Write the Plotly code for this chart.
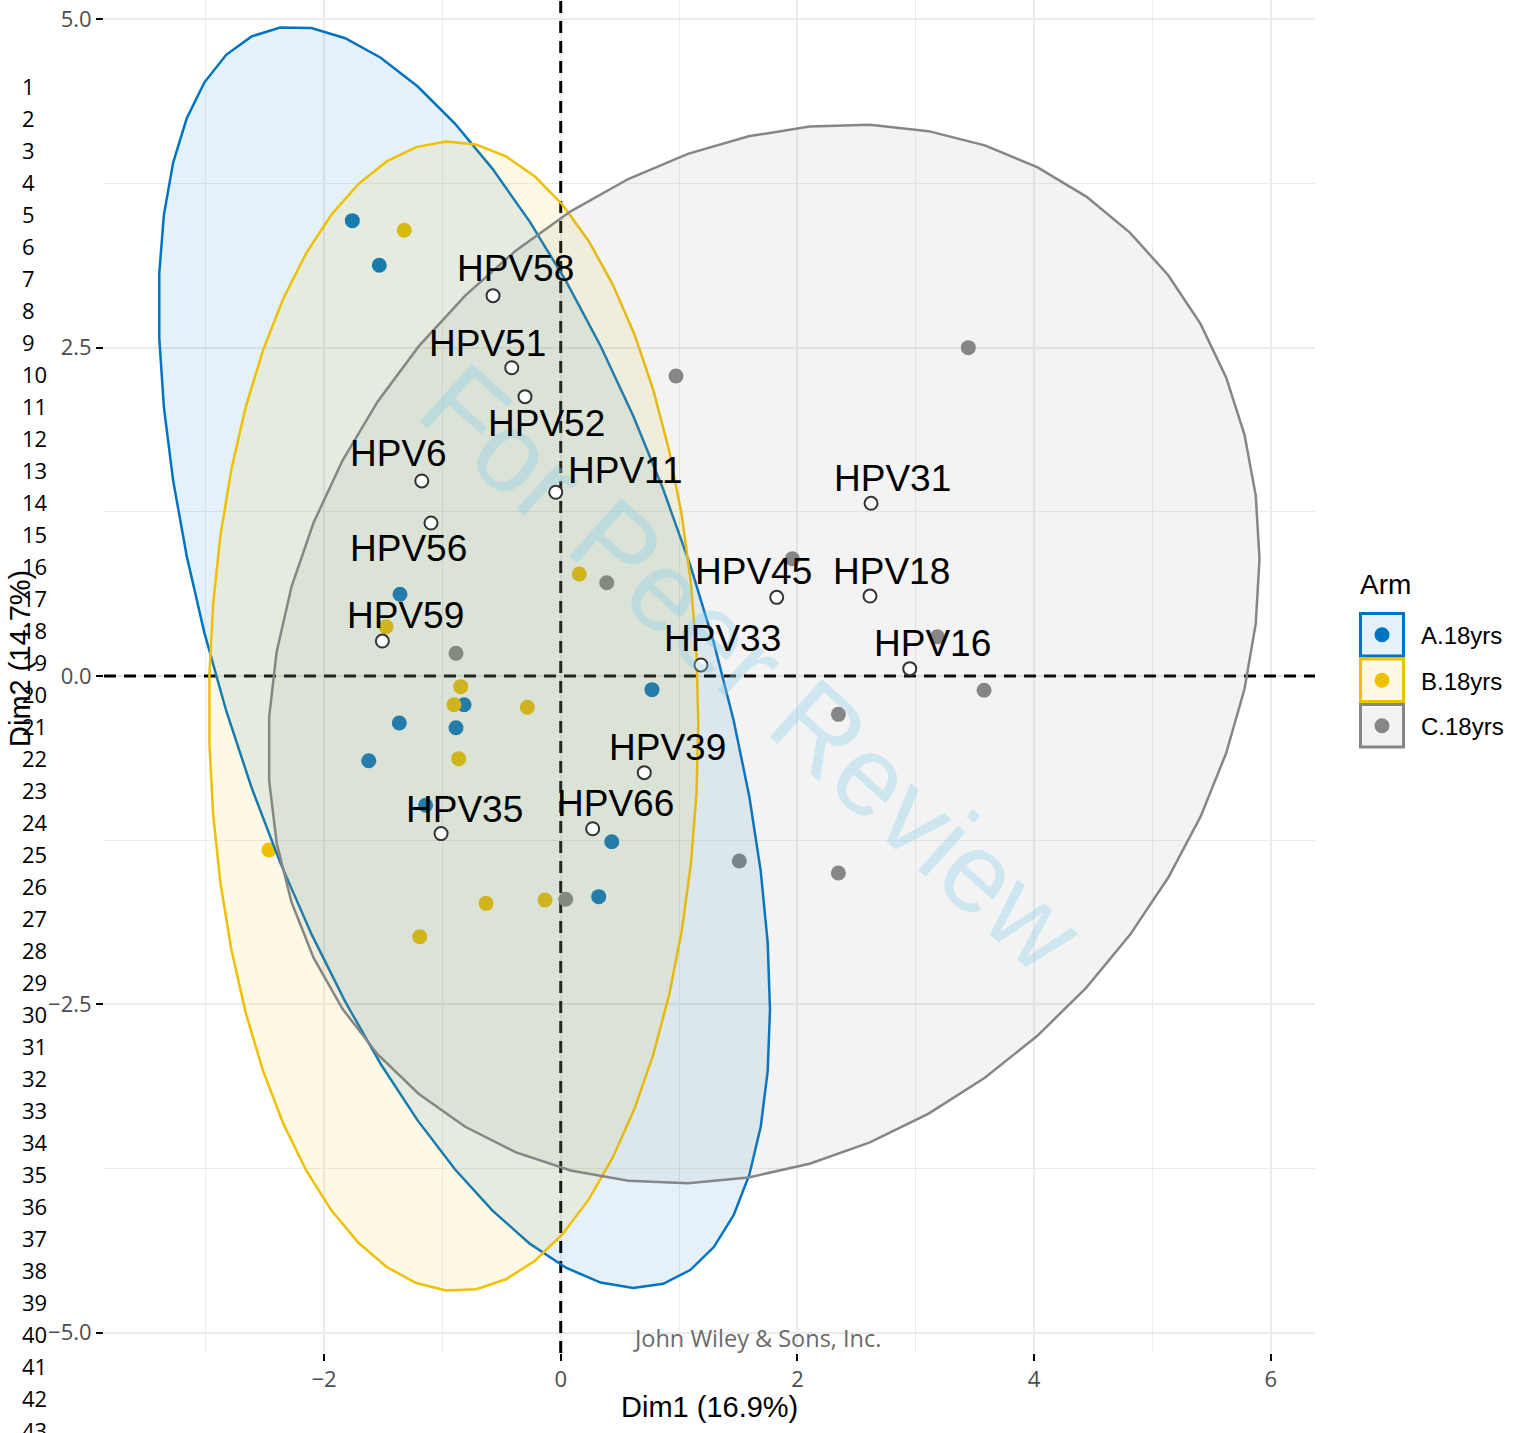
import numpy as np
import plotly.graph_objects as go

# ---------------- data ----------------
groups = ["A.18yrs", "B.18yrs", "C.18yrs"]
colors = ["#0073C2", "#EFC000", "#868686"]
fills = ["rgba(0,115,194,0.1)", "rgba(239,192,0,0.1)", "rgba(134,134,134,0.1)"]

a_x = [-1.761, -1.533, -1.358, -0.817, -1.364, -0.885, -1.622, -1.142, 0.771, 0.431, 0.321]
a_y = [3.467, 3.127, 0.622, -0.219, -0.358, -0.394, -0.645, -0.984, -0.104, -1.262, -1.680]

b_x = [-1.322, -1.476, -0.845, -0.902, -0.282, -0.862, -2.465, 0.157, -0.631, -0.133, -1.191]
b_y = [3.394, 0.375, -0.081, -0.219, -0.238, -0.630, -1.325, 0.777, -1.731, -1.706, -1.985]

c_x = [0.974, 3.444, 1.957, 0.389, -0.885, 3.182, 3.577, 2.346, 1.509, 2.346, 0.042]
c_y = [2.284, 2.500, 0.893, 0.710, 0.173, 0.299, -0.109, -0.292, -1.409, -1.500, -1.700]

var_names = ["HPV58", "HPV51", "HPV52", "HPV6", "HPV11", "HPV56", "HPV59", "HPV31",
             "HPV45", "HPV18", "HPV33", "HPV16", "HPV39", "HPV66", "HPV35"]
var_x = [-0.572, -0.414, -0.302, -1.174, -0.042, -1.096, -1.507, 2.622,
         1.825, 2.613, 1.185, 2.949, 0.706, 0.270, -1.011]
var_y = [2.896, 2.347, 2.127, 1.485, 1.399, 1.165, 0.266, 1.315,
         0.599, 0.609, 0.084, 0.056, -0.736, -1.163, -1.200]
# label offsets (pixels, right / down) as placed by the label repeller
lab_dx = [22, -24, 22, -23, 70, -23, 23, 21, -23, 22, 22, 23, 23, 23, 23]
lab_dy = [-27, -24, 27, -27, -22, 26, -26, -25, -26, -25, -26, -25, -25, -25, -24]

x_ticks = [-2, 0, 2, 4, 6]
x_ticktext = ["\u22122", "0", "2", "4", "6"]
y_ticks = [-5, -2.5, 0, 2.5, 5]
y_ticktext = ["\u22125.0", "\u22122.5", "0.0", "2.5", "5.0"]
line_numbers = list(range(1, 44))

x_title = "Dim1 (16.9%)"
y_title = "Dim2 (14.7%)"
legend_title = "Arm"

# ---------------- layout geometry ----------------
W, H = 1514, 1433
ML, MR, MT, MB = 104, 199, 0, 80
PW, PH = W - ML - MR, H - MT - MB
XR = [-3.859, 6.373]
YR = [-5.1546, 5.1470]


def px(xp):
    return (xp - ML) / PW


def py(yp):
    return 1 - (yp - MT) / PH


def norm_ellipse(xs, ys, level=0.95, segments=51):
    pts = np.column_stack([xs, ys])
    n = len(pts)
    center = pts.mean(axis=0)
    cov = np.cov(pts, rowvar=False)
    R = np.linalg.cholesky(cov).T
    dfd = n - 1
    fq = (dfd / 2.0) * ((1 - level) ** (-2.0 / dfd) - 1)  # qf(level, 2, dfd)
    radius = np.sqrt(2 * fq)
    ang = np.arange(segments + 1) * 2 * np.pi / segments
    uc = np.column_stack([np.cos(ang), np.sin(ang)])
    e = center + radius * (uc @ R)
    return e[:, 0], e[:, 1]


fig = go.Figure()

# zero reference lines
fig.add_trace(go.Scatter(x=XR, y=[0, 0], mode="lines",
                         line=dict(color="black", width=3, dash="12px,8px"),
                         hoverinfo="skip", showlegend=False))
fig.add_trace(go.Scatter(x=[0, 0], y=YR, mode="lines",
                         line=dict(color="black", width=3, dash="12px,8px"),
                         hoverinfo="skip", showlegend=False))

data = [(a_x, a_y), (b_x, b_y), (c_x, c_y)]

# individuals
for (xs, ys), col, g in zip(data, colors, groups):
    fig.add_trace(go.Scatter(x=xs, y=ys, mode="markers",
                             marker=dict(color=col, size=15, line=dict(width=0)),
                             name=g, showlegend=False))

# ellipses
for (xs, ys), col, fc, g in zip(data, colors, fills, groups):
    ex, ey = norm_ellipse(xs, ys)
    fig.add_trace(go.Scatter(x=ex, y=ey, mode="lines", fill="toself", fillcolor=fc,
                             line=dict(color=col, width=2.5), name=g,
                             hoverinfo="skip", showlegend=False))

# variables
fig.add_trace(go.Scatter(x=var_x, y=var_y, mode="markers",
                         marker=dict(color="white", size=13, line=dict(color="#333333", width=2)),
                         text=var_names, showlegend=False))

annotations = []

# watermark
annotations.append(dict(xref="paper", yref="paper", x=px(752), y=py(668),
                        text="For Peer Review", showarrow=False, textangle=42,
                        font=dict(family="Liberation Sans, Arial", size=113,
                                  color="rgba(135,206,235,0.35)"),
                        xanchor="center", yanchor="middle"))

for name, xv, yv, dx, dy in zip(var_names, var_x, var_y, lab_dx, lab_dy):
    annotations.append(dict(x=xv, y=yv, xref="x", yref="y", text=name, showarrow=False,
                            xshift=dx, yshift=-dy, xanchor="center", yanchor="middle",
                            font=dict(family="Liberation Sans, Arial", size=37, color="black")))

# axis titles
annotations.append(dict(xref="paper", yref="paper", x=px(709.5), y=py(1407), text=x_title,
                        showarrow=False, xanchor="center", yanchor="middle",
                        font=dict(family="Liberation Sans, Arial", size=29, color="black")))
annotations.append(dict(xref="paper", yref="paper", x=px(20), y=py(659), text=y_title,
                        showarrow=False, textangle=-90, xanchor="center", yanchor="middle",
                        font=dict(family="Liberation Sans, Arial", size=29, color="black")))

# page line numbers on the left
for n in line_numbers:
    annotations.append(dict(xref="paper", yref="paper", x=px(20), y=py(86 + 32 * (n - 1)),
                            text=str(n), showarrow=False, xanchor="left", yanchor="middle",
                            font=dict(family="Open Sans", size=22, color="black")))

# publisher footer
annotations.append(dict(xref="paper", yref="paper", x=px(757), y=py(1338),
                        text="John Wiley &amp; Sons, Inc.", showarrow=False,
                        xanchor="center", yanchor="middle",
                        font=dict(family="Open Sans", size=23.5, color="#6A6A6A")))

# legend (drawn manually to reproduce ggplot keys)
annotations.append(dict(xref="paper", yref="paper", x=px(1358), y=py(584), text=legend_title,
                        showarrow=False, xanchor="left", yanchor="middle",
                        font=dict(family="Liberation Sans, Arial", size=28, color="black")))
shapes = []
key_top = 612
key_size = 45.5
for i, (g, col, fc) in enumerate(zip(groups, colors, fills)):
    y0 = key_top + i * key_size
    shapes.append(dict(type="rect", xref="paper", yref="paper",
                       x0=px(1360.5), x1=px(1403.5), y0=py(y0 + 1.5), y1=py(y0 + key_size - 1.5),
                       line=dict(color=col, width=3), fillcolor=fc, layer="above"))
    cx, cy = 1382, y0 + key_size / 2
    shapes.append(dict(type="circle", xref="paper", yref="paper",
                       x0=px(cx - 7.5), x1=px(cx + 7.5), y0=py(cy - 7.5), y1=py(cy + 7.5),
                       line=dict(width=0), fillcolor=col, layer="above"))
    annotations.append(dict(xref="paper", yref="paper", x=px(1419), y=py(cy + 1), text=g,
                            showarrow=False, xanchor="left", yanchor="middle",
                            font=dict(family="Liberation Sans, Arial", size=24, color="black")))

fig.update_layout(
    width=W, height=H,
    margin=dict(l=ML, r=MR, t=MT, b=MB, pad=0),
    paper_bgcolor="white", plot_bgcolor="white",
    showlegend=False,
    annotations=annotations, shapes=shapes,
    xaxis=dict(range=XR, tickvals=x_ticks, ticktext=x_ticktext, showgrid=True,
               gridcolor="#EBEBEB", gridwidth=2, zeroline=False, showline=False,
               ticks="outside", ticklen=7, tickwidth=2, tickcolor="black",
               tickfont=dict(family="Open Sans", size=22, color="#4D4D4D"),
               minor=dict(tickvals=[-3, -1, 1, 3, 5], showgrid=True, gridcolor="#EBEBEB",
                          gridwidth=1, ticks="")),
    yaxis=dict(range=YR, tickvals=y_ticks, ticktext=y_ticktext, showgrid=True,
               gridcolor="#EBEBEB", gridwidth=2, zeroline=False, showline=False,
               ticks="outside", ticklen=7, tickwidth=2, tickcolor="black",
               tickfont=dict(family="Open Sans", size=22, color="#4D4D4D"),
               minor=dict(tickvals=[-3.75, -1.25, 1.25, 3.75], showgrid=True,
                          gridcolor="#EBEBEB", gridwidth=1, ticks="")),
)

fig.write_html("out.html", config={"displayModeBar": False},
               post_script="document.body.style.margin='0';document.body.style.overflow='hidden';")
